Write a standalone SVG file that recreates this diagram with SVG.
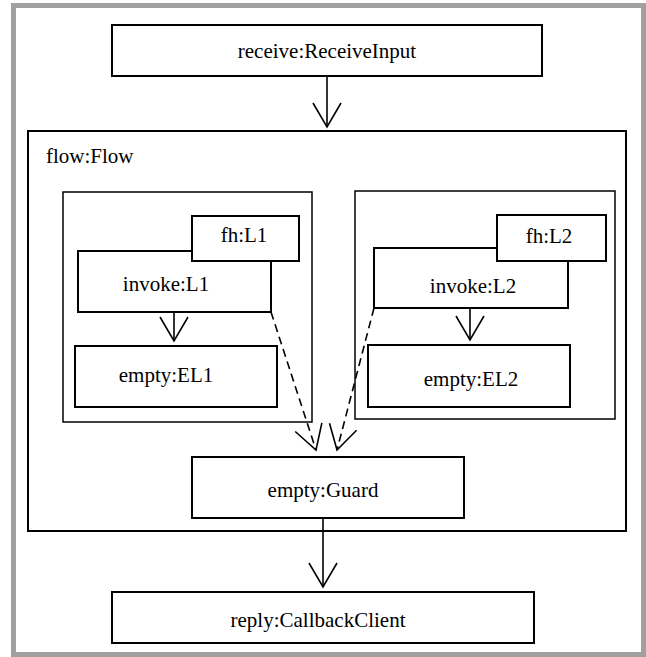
<svg xmlns="http://www.w3.org/2000/svg" width="646" height="657" viewBox="0 0 646 657">
<defs>
<style>
.frame{fill:#fff;stroke:#a0a0a0;stroke-width:5}
.node{fill:#fff;stroke:#000;stroke-width:2}
.cont{fill:none;stroke:#000;stroke-width:1.5}
.flow{fill:none;stroke:#000;stroke-width:2}
.lbl{font-family:"Liberation Serif","Times New Roman",serif;font-size:21px;fill:#000;text-anchor:middle}
.lbl-l{font-family:"Liberation Serif","Times New Roman",serif;font-size:21px;fill:#000;text-anchor:start}
.edge{fill:none;stroke:#000;stroke-width:1.6}
.dash{fill:none;stroke:#000;stroke-width:1.6;stroke-dasharray:8,5}
</style>
<marker id="vee" markerUnits="userSpaceOnUse" markerWidth="40" markerHeight="40" refX="0" refY="0" viewBox="-30 -20 40 40" orient="auto" overflow="visible">
<path d="M-24,-14 L0,0 L-24,14" fill="none" stroke="#000" stroke-width="1.6" stroke-dasharray="none"/>
</marker>
</defs>
<rect class="frame" x="13.5" y="5.5" width="630" height="649"/>

<g id="receive">
<rect class="node" x="112" y="25" width="430" height="51"/>
<text class="lbl" x="327" y="58">receive:ReceiveInput</text>
</g>

<g id="flow">
<rect class="flow" x="28" y="131" width="598" height="400"/>
<text class="lbl-l" x="46" y="163">flow:Flow</text>
</g>

<g id="seq1">
<rect class="cont" x="63" y="192" width="249" height="230"/>
</g>
<g id="invokeL1">
<rect class="node" x="78" y="251" width="193" height="61"/>
<text class="lbl" x="166" y="291">invoke:L1</text>
</g>
<g id="fhL1">
<rect class="node" x="192" y="216" width="107" height="45"/>
<text class="lbl" x="244" y="242">fh:L1</text>
</g>
<g id="emptyEL1">
<rect class="node" x="75" y="346" width="202" height="61"/>
<text class="lbl" x="166" y="382">empty:EL1</text>
</g>

<g id="seq2">
<rect class="cont" x="355" y="191" width="260" height="228"/>
</g>
<g id="invokeL2">
<rect class="node" x="374" y="248" width="194" height="60"/>
<text class="lbl" x="473" y="293">invoke:L2</text>
</g>
<g id="fhL2">
<rect class="node" x="497" y="215" width="109" height="46"/>
<text class="lbl" x="549" y="243">fh:L2</text>
</g>
<g id="emptyEL2">
<rect class="node" x="368" y="345" width="202" height="62"/>
<text class="lbl" x="471" y="386">empty:EL2</text>
</g>

<g id="guard">
<rect class="node" x="192" y="457" width="272" height="61"/>
<text class="lbl" x="323" y="497">empty:Guard</text>
</g>

<g id="reply">
<rect class="node" x="112" y="592" width="422" height="51"/>
<text class="lbl" x="318" y="627">reply:CallbackClient</text>
</g>

<g id="connectors">
<line class="edge" x1="327" y1="76" x2="327" y2="127" marker-end="url(#vee)"/>
<line class="edge" x1="174" y1="312" x2="174" y2="341" marker-end="url(#vee)"/>
<line class="edge" x1="470" y1="308" x2="470" y2="340" marker-end="url(#vee)"/>
<line class="dash" x1="271" y1="312" x2="316" y2="450" marker-end="url(#vee)"/>
<line class="dash" x1="374" y1="308" x2="337" y2="450" marker-end="url(#vee)"/>
<line class="edge" x1="323" y1="518" x2="323" y2="587" marker-end="url(#vee)"/>
</g>
</svg>
